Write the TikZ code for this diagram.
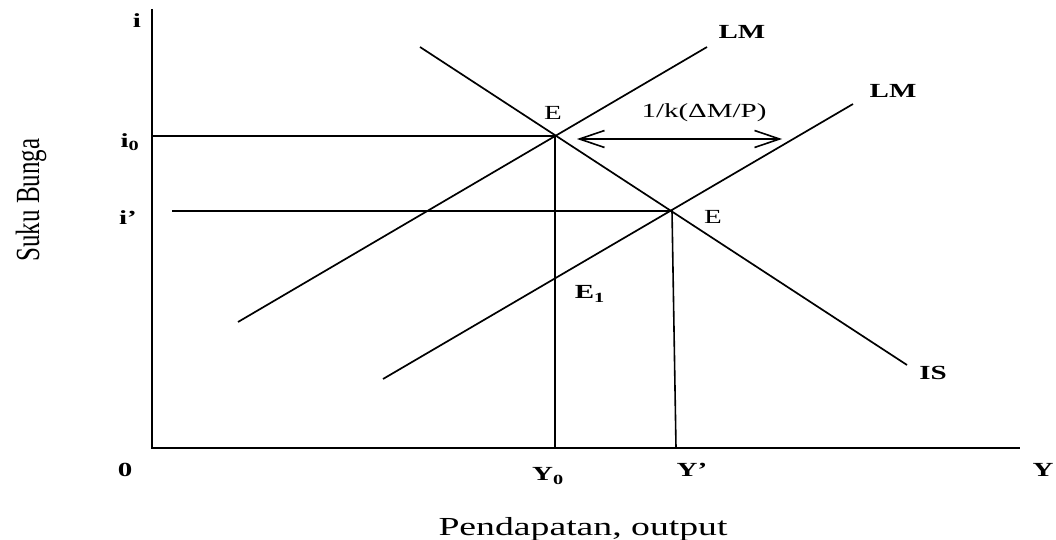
\documentclass[tikz,border=0pt]{standalone}
\usepackage{fontspec}
\setmainfont{Liberation Serif}
\usetikzlibrary{arrows.meta}
\tikzset{
  is-axis/.style={line width=2.2pt, draw=black},
  is-curve/.style={line width=1.7pt, draw=black},
  is-guide/.style={line width=1.6pt, draw=black},
  is-shift/.style={{Straight Barb[length=25pt,width=17pt]}-{Straight Barb[length=25pt,width=17pt]},
    line width=1.6pt},
  is-label/.style={font=\fontsize{20}{22}\selectfont, xscale=1.45, inner sep=1pt},
  is-label-b/.style={is-label, font=\bfseries\fontsize{20}{22}\selectfont},
  is-title/.style={font=\fontsize{26}{28}\selectfont, xscale=1.45, inner sep=1pt}
}
\begin{document}
\begin{tikzpicture}[x=1pt, y=-1pt]
\useasboundingbox (0,0) rectangle (1056,540);

% axes
\coordinate (top) at (152,9);
\coordinate (o) at (152,448);
\coordinate (xend) at (1020,448);
\draw[is-axis] (top) -- (o) -- (xend);

% equilibria
\coordinate (e0) at (555,136);
\coordinate (e1) at (672,211);
\coordinate (i0-ax) at (152,136);
\coordinate (ip-start) at (172,211);
\coordinate (y0-ax) at (555,448);
\coordinate (yp-ax) at (676,448);

% IS and the two LM curves
\coordinate (is-a) at (420,47);
\coordinate (is-b) at (907,365);
\coordinate (lm1-a) at (238,322);
\coordinate (lm1-b) at (707,47);
\coordinate (lm2-a) at (383,379);
\coordinate (lm2-b) at (853,104);
\draw[is-curve] (is-a) -- (is-b);
\draw[is-curve] (lm1-a) -- (lm1-b);
\draw[is-curve] (lm2-a) -- (lm2-b);

\draw[is-guide] (i0-ax) -- (e0) -- (y0-ax);
\draw[is-guide] (ip-start) -- (e1) -- (yp-ax);

% shift of LM
\coordinate (sh-a) at (577,139);
\coordinate (sh-b) at (782,139);
\draw[is-shift] (sh-a) -- (sh-b);

% labels
\node[is-label-b] (l-i) at (137,21) {i};
\node[is-label-b] (l-i0) at (130,142) {i\textsubscript{0}};
\node[is-label-b] (l-ip) at (128,218) {i'};
\node[is-label-b] (l-0) at (125,470) {0};
\node[is-label-b] (l-y0) at (548,476) {Y\textsubscript{0}};
\node[is-label-b] (l-yp) at (692,470) {Y'};
\node[is-label-b] (l-y) at (1043,470) {Y};
\node[is-label-b] (l-lm1) at (742,32) {LM};
\node[is-label-b] (l-lm2) at (893,91) {LM};
\node[is-label-b] (l-is) at (933,373) {IS};
\node[is-label-b] (l-e1) at (590,294) {E\textsubscript{1}};
\node[is-label] (l-e) at (553,113) {E};
\node[is-label] (l-ep) at (713,217) {E};
\node[is-label] (l-shift) at (704,113) {1/k(ΔM/P)};

\node[is-title, anchor=base] (ytitle) at (583,535) {Pendapatan, output};
\node[font=\fontsize{25}{27}\selectfont, inner sep=1pt, xscale=1.35, rotate=90]
  (xtitle) at (31,200) {Suku Bunga};
\end{tikzpicture}
\end{document}
